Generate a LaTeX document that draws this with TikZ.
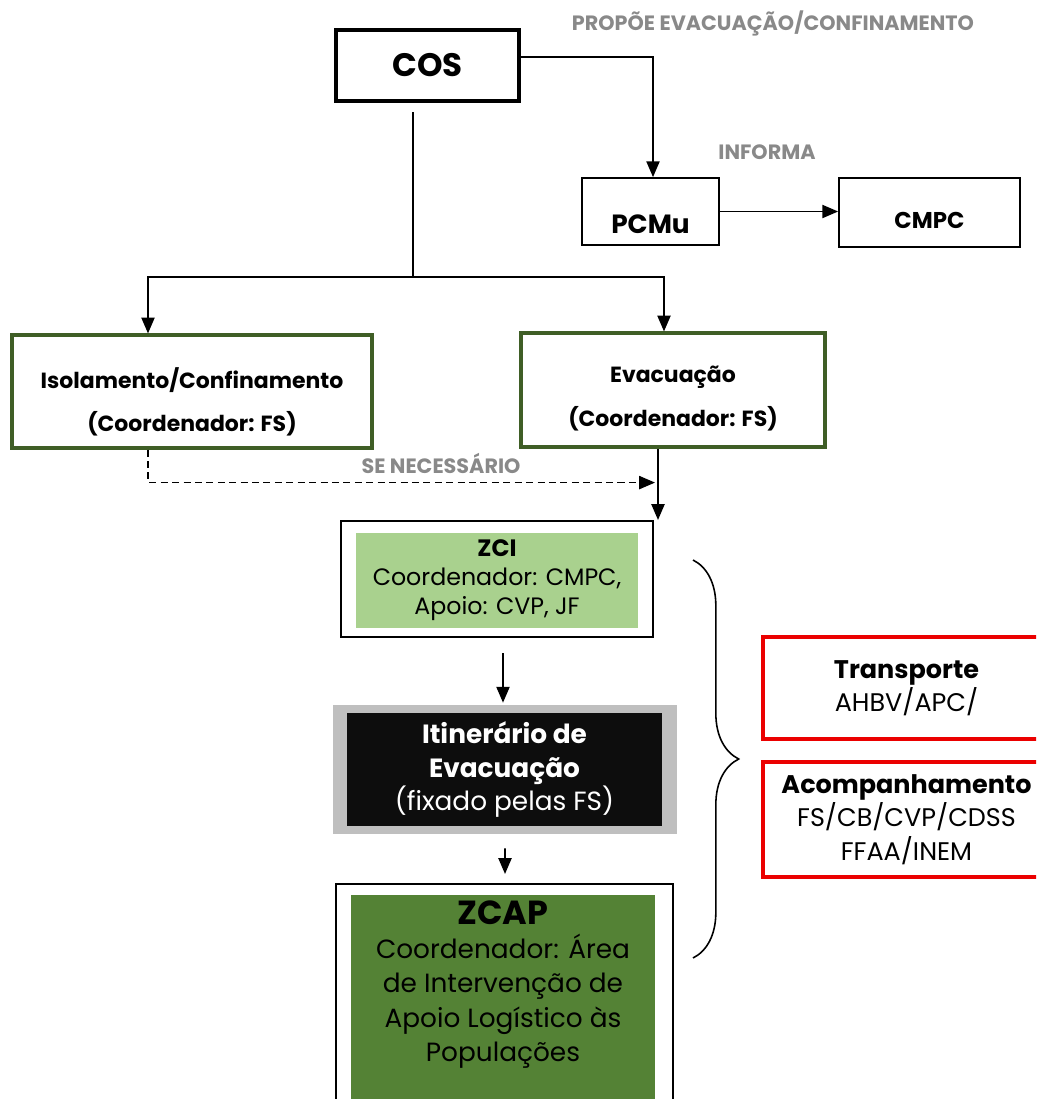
\documentclass[tikz,border=0pt]{standalone}
\usepackage{fontspec}
\setmainfont{Poppins}
\usepackage{tikz}
\usetikzlibrary{calc}
\usetikzlibrary{positioning}
\usetikzlibrary{arrows.meta}
\usetikzlibrary{decorations.pathreplacing}
\definecolor{boxgreen}{RGB}{63,94,38}
\definecolor{lightgreen}{RGB}{169,209,142}
\definecolor{darkgreen}{RGB}{84,130,53}
\definecolor{notegray}{RGB}{137,137,137}
\definecolor{itingray}{RGB}{191,191,191}
\definecolor{itinblack}{RGB}{13,13,13}
\definecolor{boxred}{RGB}{235,0,0}
\newcommand{\px}{0.02cm}
\newcommand{\fsz}[2]{\fontsize{#1}{#2}\selectfont}

\begin{document}
\begin{tikzpicture}[x=0.02cm, y=-0.02cm,
  wh/.style 2 args={minimum width=#1*\px, minimum height=#2*\px},
  box/.style={draw, line width=1pt, inner sep=0pt},
  greenbox/.style={draw=boxgreen, line width=1.8pt, inner sep=0pt},
  redbox/.style={draw=boxred, line width=1.8pt, inner sep=0pt, align=center, font=\fsz{14.5}{19}},
  tag/.style={font=\bfseries\fsz{#1}{#1}},
  duo/.style={align=center, font=\bfseries\fsz{12.5}{24.5}},
  note/.style={text=notegray, font=\bfseries\fsz{11.8}{14}},
  line/.style={line width=0.9pt},
  arrow/.style={line, -{Triangle[length=9pt,width=7.5pt]}},
]
  \useasboundingbox (0,0) rectangle (1036,1099);
  \clip (0,0) rectangle (1036,1099);

  % top row
  \node[box, line width=2.4pt, wh={183}{71}, tag=18.5] (cos) at (427.5,65.5) {COS};
  \node[box, wh={137}{67}, label={[tag=15, yshift=-13*\px]center:PCMu}] (pcmu) at (650.5,211.5) {};
  \node[box, wh={181}{69}, label={[tag=13, yshift=-8*\px]center:CMPC}] (cmpc) at (929.5,212.5) {};
  \node[note] (propoe) at (773,23) {PROPÕE EVACUAÇÃO/CONFINAMENTO};
  \node[note] (informa) at (767,152) {INFORMA};

  \draw[arrow] ($(cos.east)+(0,-8.5)$) -| ($(pcmu.north)+(2.5,0)$);
  \draw[arrow] (pcmu.east) -- (pcmu.east -| cmpc.west);

  % isolamento / evacuacao
  \node[greenbox, wh={360}{113},
    label={[duo, yshift=-10*\px]center:Isolamento/Confinamento\\(Coordenador: FS)}] (isol) at (192,391.5) {};
  \node[greenbox, wh={304}{114},
    label={[duo, yshift=-8.5*\px]center:Evacuação\\(Coordenador: FS)}] (evac) at (673,390) {};

  \coordinate (cosfoot) at (413,112);
  \coordinate (split) at (413,277);
  \draw[line] (cosfoot) -- (split);
  \draw[arrow] (split) -| ($(isol.north)+(-44,0)$);
  \draw[arrow] (split) -| ($(evac.north)+(-9,0)$);

  % zci
  \node[box, line width=1.2pt, wh={312}{116}] (zci) at (497,579) {};
  \node[fill=lightgreen, wh={282}{95}, inner sep=0pt, align=center, font=\fsz{13.5}{16.5}]
    (zcifill) at (497,580.5) {\textbf{ZCI}\\Coordenador: CMPC,\\Apoio: CVP, JF};

  \coordinate (drop) at ($(evac.south)+(-15,0)$);
  \draw[arrow] (drop) -- (drop |- zci.north);
  \draw[arrow, dash pattern=on 4pt off 2.5pt] ($(isol.south)+(-44,0)$) |- ($(drop)+(-3,34)$);
  \node[note] (senec) at (441,463) {SE NECESSÁRIO};

  % itinerario
  \node[fill=itingray, wh={344}{129}] (itin) at (505,769.5) {};
  \node[fill=itinblack, text=white, wh={315}{113}, inner sep=0pt, align=center, font=\fsz{15}{19.3}]
    (itinfill) at (504.5,769.5) {\textbf{Itinerário de}\\\textbf{Evacuação}\\(fixado pelas FS)};
  \draw[arrow] ($(zci.south)+(6,15)$) -- ($(itin.north)+(-2,-2)$);

  % zcap
  \node[box, line width=1.2pt, wh={337}{226}] (zcap) at (504.5,997) {};
  \node[fill=darkgreen, wh={304}{215}, inner sep=0pt,
    label={[align=center, font=\fsz{15}{19.6}, yshift=18*\px]center:{\bfseries\fsz{19}{22}ZCAP}\\Coordenador: Área\\de Intervenção de\\Apoio Logístico às\\Populações}]
    (zcapfill) at (503,1002.5) {};
  \draw[arrow] ($(itin.south)+(0,14)$) -- ($(zcap.north)+(0.5,-9)$);

  % meios
  \draw[line, decorate, decoration={brace, amplitude=26pt}] (693,560) -- (693,958);
  \node[redbox, wh={287}{102}] (transp) at (906.5,688) {\textbf{Transporte}\\AHBV/APC/};
  \node[redbox, wh={287}{115}] (acomp) at (906.5,819.5) {\textbf{Acompanhamento}\\FS/CB/CVP/CDSS\\FFAA/INEM};

\end{tikzpicture}
\end{document}
